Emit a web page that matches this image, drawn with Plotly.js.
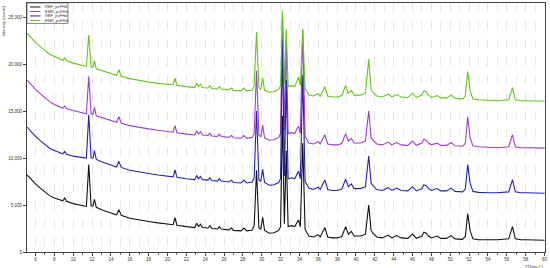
<!DOCTYPE html>
<html>
<head>
<meta charset="utf-8">
<script src="https://cdn.plot.ly/plotly-3.0.1.min.js"></script>
<style>
  html, body { margin: 0; padding: 0; background: #fff; }
  #xrd { width: 550px; height: 268px; }
</style>
</head>
<body>
<div id="xrd"></div>
<script>
// 2Theta positions (deg), shared by all four patterns
var twoTheta = [
	5.1, 5.5, 6.0, 6.5, 7.0, 7.5, 8.0, 8.5, 8.9, 9.1, 9.3, 10.0, 11.0, 11.4, 11.65, 11.9, 12.1, 12.25, 12.45, 13.0,
	14.0, 14.6, 14.85, 15.1, 16.0, 17.0, 18.0, 19.0, 20.0, 20.6, 20.8, 21.0, 22.0, 22.9, 23.1, 23.3, 23.5, 23.7, 24.3, 24.5,
	24.7, 25.3, 25.5, 25.7, 26.5, 26.8, 27.0, 27.8, 28.1, 28.4, 29.0, 29.2, 29.45, 29.7, 29.9, 30.1, 30.3, 30.8, 31.3, 31.8,
	32.0, 32.2, 32.4, 32.6, 32.8, 33.2, 33.5, 33.9, 34.1, 34.35, 34.6, 35.0, 35.5, 36.0, 36.2, 36.7, 37.0, 37.5, 38.0, 38.5,
	38.9, 39.2, 39.5, 39.8, 40.5, 41.0, 41.35, 41.6, 41.8, 42.2, 42.8, 43.4, 43.8, 44.3, 44.8, 45.5, 46.0, 46.4, 47.0, 47.2,
	47.45, 47.7, 48.0, 48.6, 49.0, 49.6, 50.1, 50.5, 51.3, 51.6, 51.85, 52.1, 52.4, 53.0, 54.0, 55.0, 56.2, 56.6, 56.9, 57.5,
	58.0, 59.0, 60.0
];

var seriesNames = ["REF_pcFHd", "EMR_pcFHd", "REF_psFHd", "EMR_psFHd"];

// counts (patterns are stacked as plotted)
var refPc = [
	8200, 7750, 7250, 6800, 6350, 6000, 5750, 5550, 5450, 5750, 5400, 5150, 4900, 4850, 9300, 4900, 4900, 5600, 4750, 4500,
	4150, 3950, 4500, 3900, 3600, 3400, 3250, 3100, 2950, 2900, 3650, 2850, 2700, 2600, 3050, 2700, 2950, 2600, 2550, 2800,
	2500, 2450, 2700, 2450, 2350, 2550, 2300, 2250, 2550, 2250, 2350, 2800, 8700, 2600, 2400, 3700, 2300, 2000, 2050, 2300,
	2700, 14500, 3000, 10800, 2700, 2800, 2700, 3400, 2700, 11600, 2400, 1700, 1600, 1850, 1600, 2600, 1600, 1500, 1500, 1650,
	2700, 1900, 2200, 1700, 1700, 1900, 5000, 2300, 2000, 1600, 1500, 1800, 1500, 1750, 1500, 1450, 1900, 1450, 1700, 2100,
	2000, 1700, 1500, 1700, 1450, 1450, 1750, 1400, 1350, 1650, 4100, 2300, 1400, 1300, 1300, 1300, 1400, 2700, 1400, 1300,
	1300, 1250, 1250
];
var emrPc = [
	18300, 17800, 17300, 16850, 16400, 16000, 15700, 15450, 15300, 15550, 15250, 15050, 14800, 14700, 18700, 14700, 14650, 15400, 14500, 14300,
	14000, 13800, 14400, 13700, 13450, 13250, 13100, 12950, 12800, 12750, 13450, 12700, 12550, 12450, 12900, 12550, 12800, 12450, 12400, 12650,
	12350, 12300, 12550, 12300, 12200, 12400, 12150, 12100, 12400, 12100, 12200, 12650, 19300, 12450, 12250, 13500, 12150, 11900, 11950, 12200,
	12600, 25500, 12900, 22500, 12600, 12700, 12600, 13400, 12600, 23600, 12300, 11600, 11500, 11750, 11500, 12500, 11500, 11400, 11400, 11550,
	12600, 11800, 12100, 11600, 11600, 11800, 15000, 12200, 11900, 11500, 11400, 11700, 11400, 11650, 11400, 11350, 11800, 11350, 11600, 12000,
	11900, 11600, 11400, 11600, 11350, 11350, 11650, 11300, 11250, 11550, 14400, 12200, 11300, 11200, 11150, 11100, 11200, 12500, 11200, 11100,
	11100, 11050, 11050
];
var refPs = [
	13300, 12800, 12300, 11850, 11400, 11050, 10800, 10600, 10450, 10700, 10400, 10200, 10050, 10000, 14600, 10000, 10000, 10800, 9850, 9600,
	9250, 9050, 9650, 9000, 8700, 8500, 8350, 8200, 8050, 8000, 8750, 7950, 7800, 7700, 8150, 7800, 8050, 7700, 7650, 7900,
	7600, 7550, 7800, 7550, 7450, 7650, 7400, 7350, 7650, 7350, 7450, 7900, 15000, 7700, 7500, 8800, 7400, 7100, 7150, 7400,
	7800, 22500, 8100, 18300, 7800, 7900, 7800, 8600, 7800, 18800, 7500, 6800, 6650, 6900, 6650, 7650, 6650, 6550, 6550, 6700,
	7750, 6950, 7250, 6750, 6750, 6950, 10200, 7350, 7050, 6650, 6550, 6850, 6550, 6800, 6550, 6500, 6950, 6500, 6750, 7150,
	7050, 6750, 6550, 6750, 6500, 6500, 6800, 6450, 6400, 6700, 9300, 7350, 6450, 6350, 6300, 6300, 6400, 7700, 6400, 6300,
	6300, 6250, 6250
];
var emrPs = [
	23300, 22800, 22300, 21850, 21400, 21050, 20800, 20550, 20400, 20650, 20350, 20100, 19850, 19750, 23100, 19700, 19650, 20350, 19500, 19300,
	19000, 18800, 19400, 18700, 18450, 18250, 18100, 17950, 17850, 17800, 18500, 17750, 17600, 17500, 17950, 17600, 17850, 17500, 17450, 17700,
	17400, 17350, 17600, 17350, 17250, 17450, 17200, 17150, 17450, 17150, 17250, 17700, 23400, 17500, 17300, 18500, 17200, 17000, 17050, 17300,
	17700, 25700, 17900, 23700, 17600, 17700, 17600, 18600, 17700, 23700, 17400, 16700, 16600, 16850, 16600, 17600, 16600, 16500, 16500, 16650,
	17700, 16900, 17200, 16700, 16700, 16900, 20500, 17300, 17000, 16600, 16500, 16800, 16500, 16750, 16500, 16450, 16900, 16450, 16700, 17150,
	17050, 16700, 16450, 16650, 16400, 16400, 16700, 16350, 16300, 16600, 19200, 17200, 16300, 16200, 16150, 16100, 16200, 17500, 16200, 16100,
	16100, 16050, 16050
];

var colors = ["#111111", "#9a3fd0", "#2222b0", "#66c41e"];
var patterns = [refPc, emrPc, refPs, emrPs];

var data = patterns.map(function (ys, i) {
	return {
		x: twoTheta,
		y: ys,
		name: seriesNames[i],
		type: "scatter",
		mode: "lines",
		line: { color: colors[i], width: 1.1 },
	};
});

// small boxed legend, top-left (plotly's own legend rows are too tall here)
var shapes = [
	{
		type: "rect", xref: "paper", yref: "paper",
		x0: 0, x1: 0.079, y0: 0.918, y1: 1,
		fillcolor: "#ffffff", line: { color: "#555", width: 0.7 },
	},
];
var annotations = [];
seriesNames.forEach(function (name, i) {
	var yy = 0.984 - i * 0.018;
	shapes.push({
		type: "line", xref: "paper", yref: "paper",
		x0: 0.006, x1: 0.026, y0: yy, y1: yy,
		line: { color: colors[i], width: 1 },
	});
	annotations.push({
		text: name, xref: "paper", yref: "paper",
		x: 0.03, y: yy, xanchor: "left", yanchor: "middle",
		showarrow: false,
		font: { size: 4, color: "#333" },
	});
});

annotations.push(
	{
		text: "Intensity (counts)",
		xref: "paper", yref: "paper",
		x: -0.045, y: 1,
		xanchor: "center", yanchor: "top",
		textangle: -90,
		showarrow: false,
		font: { size: 4, color: "#333" },
	},
	{
		text: "2Theta (°)",
		xref: "paper", yref: "paper",
		x: 1, y: -0.04,
		xanchor: "right", yanchor: "top",
		showarrow: false,
		font: { size: 4, color: "#333" },
	}
);

var layout = {
	width: 550,
	height: 268,
	margin: { l: 27, r: 5, t: 3, b: 16 },
	paper_bgcolor: "#ffffff",
	plot_bgcolor: "#ffffff",
	font: { family: "Liberation Sans, Arial, sans-serif", size: 5, color: "#333" },
	showlegend: false,
	xaxis: {
		range: [5.1, 60.05],
		tick0: 0,
		dtick: 2,
		ticks: "outside",
		ticklen: 3,
		tickcolor: "#444",
		showline: true,
		linecolor: "#444",
		linewidth: 1,
		mirror: true,
		zeroline: false,
		showgrid: true,
		gridcolor: "#d6d6d6",
		griddash: "dash",
		gridwidth: 0.6,
		tickfont: { size: 4.5, color: "#333" },
		minor: { dtick: 1, showgrid: true, gridcolor: "#dedede", griddash: "dash", ticks: "outside", ticklen: 2, tickcolor: "#666" },
	},
	yaxis: {
		range: [0, 26500],
		tick0: 0,
		dtick: 5000,
		tickformat: ",d",
		ticks: "outside",
		ticklen: 3,
		tickcolor: "#444",
		showline: true,
		linecolor: "#444",
		linewidth: 1,
		mirror: true,
		showgrid: false,
		zeroline: false,
		tickfont: { size: 4.5, color: "#333" },
	},
	shapes: shapes,
	annotations: annotations,
};

var config = {
	responsive: false,
	displayModeBar: false,
	displaylogo: false,
	staticPlot: true,
};

Plotly.newPlot("xrd", data, layout, config);
</script>
</body>
</html>
